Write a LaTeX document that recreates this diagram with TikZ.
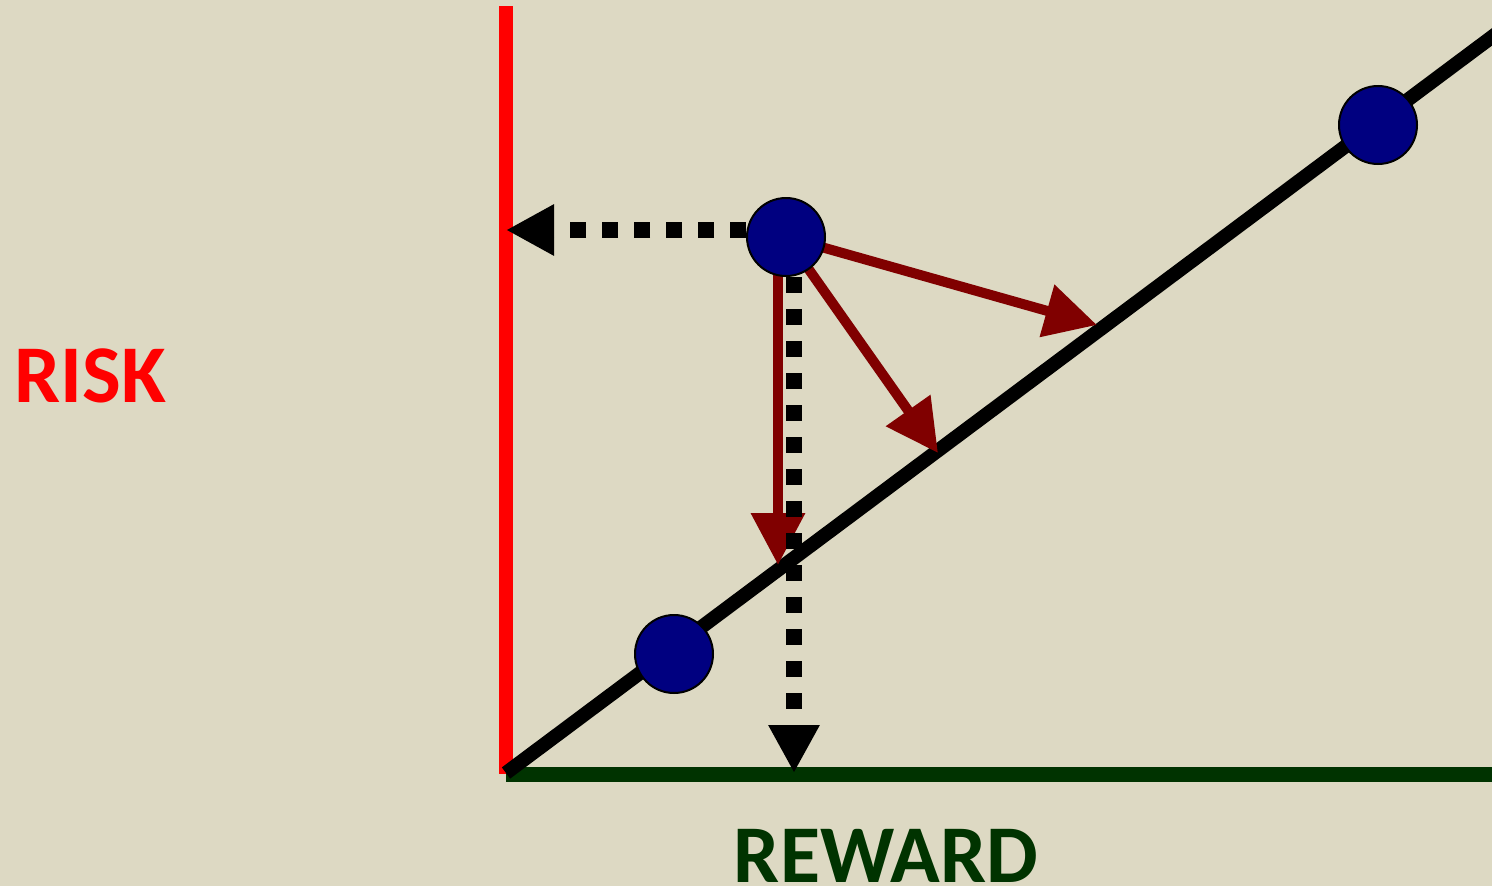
\documentclass[tikz,border=0pt]{standalone}
\usepackage{fontspec}
\setmainfont{Carlito}
\usetikzlibrary{arrows.meta}
\definecolor{bg}{RGB}{221,217,195}
\definecolor{maroon}{RGB}{128,0,0}
\definecolor{navy}{RGB}{0,0,128}
\definecolor{dgreen}{RGB}{0,51,0}
\tikzset{
  dot/.style={circle,draw=black,line width=2pt,fill=navy,minimum size=78pt,inner sep=0pt},
  move/.style={draw=maroon,line width=10pt,-{Triangle[length=52pt,width=52pt]},fill=maroon},
  proj/.style={draw=black,line width=16pt,dash pattern=on 16pt off 16pt,dash phase=24pt,-{Triangle[length=48pt,width=48pt]}},
  lbl/.style={font=\bfseries\fontsize{82}{82}\selectfont,anchor=base,inner sep=0pt}
}
\begin{document}
\begin{tikzpicture}[x=1pt,y=-1pt]
\fill[bg] (0,0) rectangle (1492,886);
\useasboundingbox (0,0) rectangle (1492,886);
\begin{scope}
\clip (0,0) rectangle (1492,886);
% axes
\draw[red,line width=14pt] (506,6) -- (506,774);
\draw[dgreen,line width=15pt] (506,774) -- (1500,774);
\draw[black,line width=14pt] (506,773) -- (1520,16);
\end{scope}
% points
\coordinate (p1) at (786,237);
\coordinate (ra) at (506,230);
\coordinate (rb) at (794,773);
\coordinate (m1) at (778,565);
\coordinate (m2) at (938,453);
\coordinate (m3) at (1097,325);
\draw[move] (p1 -| m1) -- (m1);
\draw[move] (p1) -- (m2);
\draw[move] (p1) -- (m3);
\draw[proj] (p1 |- ra) -- (ra);
\draw[proj] (p1 -| rb) -- (rb);
\node[dot] (c1) at (p1) {};
\node[dot] (c2) at (674,654) {};
\node[dot] (c3) at (1378,125) {};
\node[lbl,text=red] (risk) at (90,402) {RISK};
\node[lbl,text=dgreen] (reward) at (886,882) {REWARD};
\end{tikzpicture}
\end{document}
